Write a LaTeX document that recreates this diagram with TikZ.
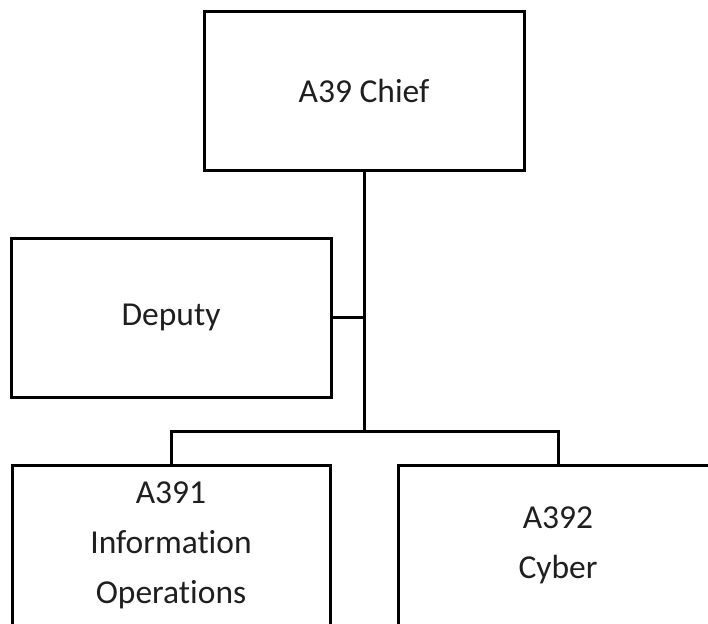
\documentclass[tikz,border=0pt]{standalone}
\usepackage{fontspec}
\setmainfont[Ligatures=NoCommon]{Carlito}
\begin{document}
\begin{tikzpicture}[x=1pt,y=1pt,
  orgbox/.style={draw=black, line width=3pt, rectangle, minimum width=320pt,
    minimum height=159pt, inner sep=0pt, align=center, text=black!88,
    font=\fontsize{33.5}{50}\selectfont},
  link/.style={draw=black, line width=3pt}]
  \clip (0,0) rectangle (708,-623);
  \fill[white] (0,0) rectangle (708,-623);
  \node[orgbox] (chief) at (364,-91) {A39 Chief};
  \node[orgbox] (deputy) at (171,-317.5) {Deputy};
  \node[orgbox, minimum width=318pt, minimum height=160pt] (io) at (171,-545)
    {A391\\Information\\Operations};
  \node[orgbox, minimum height=160pt] (cyber) at (558,-545) {A392\\Cyber};
  \coordinate (junction) at (chief.south |- 0,-431);
  \draw[link] (chief.south) -- (junction);
  \draw[link] (deputy.east) -- (deputy.east -| chief.south);
  \draw[link] (junction) -| (io.north);
  \draw[link] (junction) -| (cyber.north);
\end{tikzpicture}
\end{document}
